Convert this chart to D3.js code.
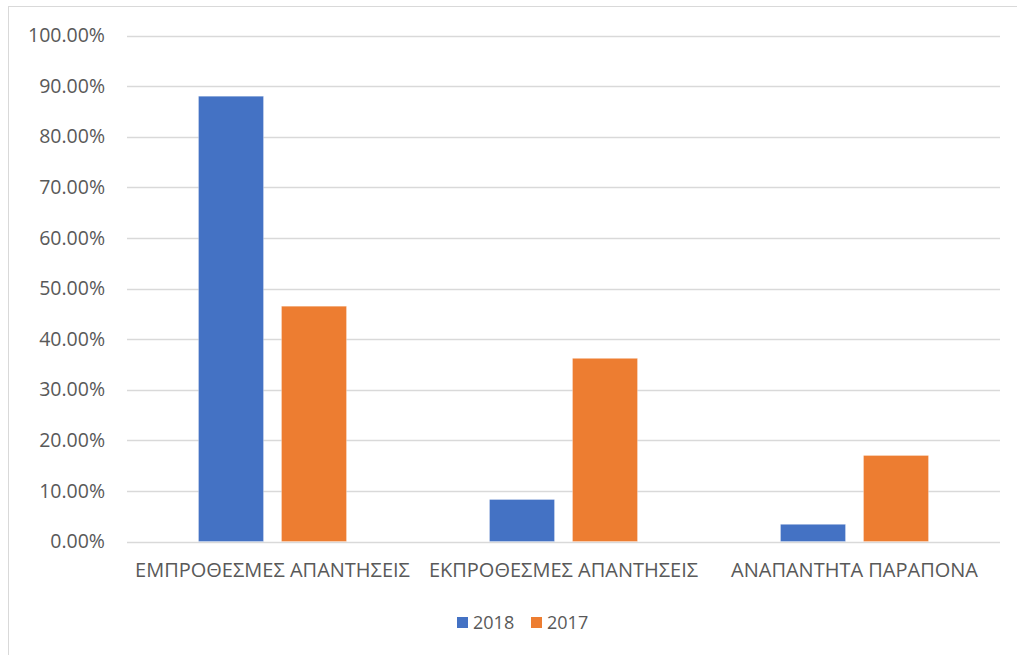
<!DOCTYPE html>
<html>
<head>
<meta charset="utf-8">
<script src="https://cdn.jsdelivr.net/npm/d3@7"></script>
<style>
  html, body { margin: 0; padding: 0; background: #fff; }
  svg { display: block; }
  text { font-family: "Open Sans", "Noto Sans", sans-serif; fill: #595959; }
</style>
</head>
<body>
<svg id="chart" width="1017" height="655"></svg>
<script>
// Categories and series values (share of complaints)
const categories = ["ΕΜΠΡΟΘΕΣΜΕΣ ΑΠΑΝΤΗΣΕΙΣ", "ΕΚΠΡΟΘΕΣΜΕΣ ΑΠΑΝΤΗΣΕΙΣ", "ΑΝΑΠΑΝΤΗΤΑ ΠΑΡΑΠΟΝΑ"];
const seriesNames = ["2018", "2017"];
const values2018 = [0.880, 0.083, 0.034];
const values2017 = [0.465, 0.362, 0.170];
const yTicks = [0, 0.1, 0.2, 0.3, 0.4, 0.5, 0.6, 0.7, 0.8, 0.9, 1.0];
const colors = ["#4472C4", "#ED7D31"];

const series = [values2018, values2017];
const svg = d3.select("#chart");

// Outer chart frame
svg.append("rect")
  .attr("x", 8.5).attr("y", 6.5)
  .attr("width", 1030).attr("height", 670)
  .attr("fill", "none").attr("stroke", "#d9d9d9").attr("stroke-width", 1);

const plot = { left: 127, right: 1000, top: 35.5, bottom: 541.5 };

const y = d3.scaleLinear().domain([0, 1]).range([plot.bottom, plot.top]);
const x0 = d3.scaleBand().domain(categories).range([plot.left, plot.right]).paddingInner(0).paddingOuter(0);
const groupWidth = 148;
const x1 = d3.scaleBand().domain(seriesNames)
  .range([(x0.bandwidth() - groupWidth) / 2, (x0.bandwidth() + groupWidth) / 2])
  .paddingInner(18 / 83).paddingOuter(0);

// Gridlines
svg.append("g").selectAll("line").data(yTicks).join("line")
  .attr("x1", plot.left).attr("x2", plot.right)
  .attr("y1", d => Math.round(y(d)) + 0.5).attr("y2", d => Math.round(y(d)) + 0.5)
  .attr("stroke", "#d9d9d9").attr("stroke-width", 1.3);

// Y axis labels
const yAxis = d3.axisLeft(y).tickValues(yTicks).tickSize(0).tickPadding(0)
  .tickFormat(d => (d * 100).toFixed(2) + "%");
const yg = svg.append("g").attr("transform", `translate(${105},0)`).call(yAxis);
yg.select(".domain").remove();
yg.selectAll("text").attr("font-size", 19.5).attr("fill", "#595959")
  .style("font-family", "'Open Sans', sans-serif");

// Bars
const groups = svg.append("g").selectAll("g").data(categories).join("g")
  .attr("transform", c => `translate(${x0(c)},0)`);
groups.selectAll("rect")
  .data((c, i) => seriesNames.map((s, j) => ({ s, v: series[j][i], j })))
  .join("rect")
  .attr("x", d => x1(d.s))
  .attr("width", x1.bandwidth())
  .attr("y", d => y(d.v))
  .attr("height", d => plot.bottom - y(d.v))
  .attr("fill", d => colors[d.j])
  .attr("stroke", "#ffffff").attr("stroke-opacity", 0.35).attr("stroke-width", 0.8);

// Category labels
const xAxis = d3.axisBottom(x0).tickSize(0).tickPadding(0);
const xg = svg.append("g").attr("transform", `translate(0,${563})`).call(xAxis);
xg.select(".domain").remove();
xg.selectAll("text").attr("font-size", 20).attr("fill", "#595959")
  .attr("dy", "0.71em");

// Legend
const legend = svg.append("g").attr("transform", "translate(457,617)");
const items = legend.selectAll("g").data(seriesNames).join("g")
  .attr("transform", (d, i) => `translate(${i * 74},0)`);
items.append("rect").attr("width", 11).attr("height", 11).attr("fill", (d, i) => colors[i]);
items.append("text").attr("x", 16).attr("y", 5.5).attr("dy", "0.36em")
  .attr("font-size", 18).text(d => d);
</script>
</body>
</html>
